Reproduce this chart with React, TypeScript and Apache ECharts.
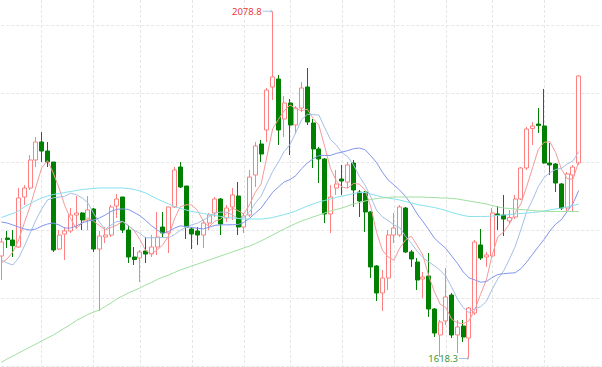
import React, { useEffect, useRef } from 'react';
import * as echarts from 'echarts';

const openPrices = [1754.3,1778.1,1775.5,1766.2,1832.5,1844.4,1881.6,1905.5,1893.5,1878.9,
1763.5,1783.4,1787.4,1808.6,1811.3,1802.0,1816.6,1763.5,1779.5,1782.1,
1820.6,1832.5,1788.7,1752.9,1751.6,1760.9,1756.9,1766.2,1792.7,1784.8,
1819.3,1872.3,1847.1,1790.1,1787.4,1782.1,1798.0,1811.3,1829.9,1804.7,
1819.3,1833.8,1792.7,1808.6,1861.7,1902.8,1921.4,1978.4,1989.0,1936.0,
1957.2,1928.0,1950.5,1978.4,1930.7,1896.2,1882.9,1810.0,1844.4,1856.4,
1852.4,1877.6,1839.1,1839.1,1812.6,1741.0,1705.2,1725.1,1782.1,1782.1,
1817.9,1759.6,1746.3,1723.8,1727.7,1684.0,1649.5,1668.1,1702.5,1649.5,
1661.4,1645.5,1678.7,1768.9,1752.9,1754.3,1810.0,1808.6,1800.7,1806.0,
1829.9,1871.0,1923.4,1929.3,1926.7,1877.6,1876.3,1849.8,1817.9,1861.7,
1877.6];

const closePrices = [1772.8,1776.1,1767.9,1831.2,1844.4,1881.6,1905.5,1893.5,1878.9,1762.2,
1782.1,1787.4,1808.6,1811.3,1802.0,1815.3,1763.5,1780.8,1782.1,1819.3,
1829.9,1788.7,1752.9,1749.6,1759.6,1756.9,1766.2,1779.5,1784.8,1819.3,
1868.3,1845.8,1792.7,1783.4,1782.1,1798.0,1808.6,1829.9,1796.7,1817.9,
1835.2,1792.7,1807.3,1859.0,1900.2,1889.5,1974.4,1991.7,1921.4,1957.2,
1928.0,1950.5,1977.1,1932.0,1896.2,1882.9,1810.0,1832.5,1849.8,1853.7,
1875.0,1841.8,1827.2,1812.6,1739.7,1705.2,1725.1,1782.1,1791.4,1819.3,
1759.6,1750.3,1722.4,1726.4,1684.0,1652.1,1666.7,1699.9,1649.5,1660.1,
1646.8,1685.3,1772.8,1751.6,1755.6,1811.3,1808.0,1803.3,1805.3,1829.9,
1871.0,1922.7,1926.7,1927.3,1877.6,1875.0,1851.1,1817.9,1863.0,1872.3,
1993.0];

const lowPrices = [1722.4,1764.9,1752.9,1764.9,1821.9,1841.8,1872.3,1878.9,1872.3,1759.6,
1762.2,1749.0,1784.8,1790.1,1788.7,1788.7,1759.6,1681.3,1771.5,1779.5,
1804.7,1784.8,1745.0,1742.3,1719.8,1745.0,1752.9,1755.6,1779.5,1758.2,
1817.9,1844.4,1776.8,1763.5,1768.9,1764.9,1788.7,1806.0,1782.1,1799.4,
1802.0,1782.1,1784.8,1806.0,1845.8,1878.9,1905.5,1961.2,1901.5,1912.1,
1888.2,1916.1,1945.2,1928.0,1871.0,1851.1,1798.0,1784.8,1835.2,1835.2,
1844.4,1819.3,1806.0,1786.1,1725.1,1694.6,1681.3,1709.2,1771.5,1779.5,
1758.2,1739.7,1709.2,1698.6,1673.4,1646.8,1620.3,1662.7,1645.5,1625.6,
1640.2,1618.3,1676.0,1749.0,1739.7,1752.9,1788.7,1780.8,1796.7,1803.3,
1828.5,1868.3,1901.5,1917.4,1876.9,1861.7,1839.1,1815.3,1812.6,1812.6,
1875.0];

const highPrices = [1778.1,1787.4,1788.7,1844.4,1848.4,1888.2,1912.1,1918.7,1905.5,1878.9,
1788.7,1792.7,1817.9,1833.8,1812.6,1833.8,1817.9,1787.4,1792.7,1821.9,
1836.5,1832.5,1795.4,1766.2,1762.2,1779.5,1782.1,1812.6,1812.6,1819.3,
1872.3,1878.9,1847.1,1792.7,1792.7,1802.0,1811.3,1832.5,1831.2,1821.9,
1844.4,1852.4,1811.3,1868.3,1905.5,1908.1,1977.1,2078.8,1994.3,1966.5,
1962.5,1953.2,1985.0,2003.6,1936.0,1898.8,1884.2,1848.4,1868.3,1875.0,
1878.9,1881.6,1841.8,1840.5,1813.9,1742.3,1735.7,1788.7,1811.3,1821.9,
1819.3,1762.2,1751.6,1733.0,1758.2,1685.3,1669.4,1738.3,1705.2,1669.4,
1669.4,1686.6,1775.5,1790.1,1759.6,1817.9,1820.6,1835.2,1815.3,1835.2,
1872.3,1925.4,1932.0,1950.5,1975.8,1904.1,1877.6,1851.1,1865.7,1875.0,
1994.3];

// moving-average values before enough bars exist in view
const ma5Head = [1745.0, 1750.3, 1759.6, 1775.5];
const ma10Head = [1749.0, 1745.0, 1742.3, 1751.6, 1767.5, 1784.8, 1802.0, 1816.6, 1828.5];
const ma20Head = [1799.4, 1798.0, 1795.4, 1792.7, 1790.1, 1788.7, 1790.1, 1794.0, 1796.7, 1798.0,
1795.4, 1791.4, 1791.4, 1794.0, 1798.0, 1800.7, 1802.0, 1804.7, 1808.6];

// long moving averages
const ma30Values = [1805.3,1808.0,1810.6,1813.9,1819.3,1823.9,1827.9,1831.2,1833.8,1835.8,
1837.2,1838.5,1839.8,1841.1,1842.5,1843.1,1843.8,1844.5,1844.5,1844.5,
1844.5,1844.5,1843.8,1842.5,1840.5,1837.8,1833.8,1829.9,1826.5,1823.2,
1819.9,1817.3,1815.3,1813.3,1812.0,1810.6,1809.3,1808.0,1806.7,1805.3,
1804.7,1804.0,1803.3,1803.3,1803.3,1803.3,1804.0,1805.3,1807.3,1809.3,
1811.3,1813.9,1817.3,1820.6,1823.2,1825.9,1827.9,1829.9,1831.9,1833.8,
1835.2,1837.2,1838.5,1838.5,1836.5,1834.5,1832.5,1831.2,1829.9,1828.5,
1826.5,1824.6,1822.6,1821.2,1819.9,1818.6,1816.6,1814.6,1812.0,1810.0,
1808.0,1806.7,1806.7,1806.7,1806.7,1807.3,1808.0,1808.6,1809.3,1810.0,
1810.6,1811.3,1812.0,1812.6,1813.9,1815.3,1816.6,1817.9,1819.3,1821.2,
1823.2];

const ma60Values = [1613.0,1617.7,1621.6,1625.6,1629.6,1633.6,1637.5,1641.5,1645.5,1649.5,
1654.1,1658.8,1663.4,1668.7,1672.7,1676.7,1680.0,1682.6,1687.3,1691.9,
1697.2,1701.2,1705.2,1708.5,1711.8,1715.8,1719.1,1723.1,1726.4,1729.1,
1732.4,1735.7,1738.3,1741.0,1743.6,1746.3,1749.0,1751.6,1754.3,1756.9,
1759.6,1762.2,1764.9,1767.5,1770.8,1774.2,1778.1,1782.1,1786.1,1790.1,
1794.0,1797.4,1800.7,1803.3,1806.0,1808.6,1811.3,1813.9,1815.9,1817.9,
1820.6,1823.2,1825.2,1827.2,1829.2,1830.5,1831.2,1831.9,1832.5,1832.5,
1832.5,1832.5,1832.5,1832.5,1831.9,1831.9,1831.2,1831.2,1830.5,1829.9,
1828.5,1827.2,1825.9,1824.6,1823.2,1821.2,1819.3,1817.9,1817.3,1816.6,
1815.9,1815.3,1814.6,1813.9,1813.9,1813.3,1813.3,1813.3,1813.3,1813.3,
1813.3];

// 101 trading days plus 4 empty slots on the right
const categories = Array.from({ length: 105 }, (_, i) => 'D' + (i + 1));
// category indices where the faint vertical separators are drawn
const separatorIdx = [7, 16, 24, 33, 42, 50, 59, 68, 77, 85, 94];

function movingAverage(head: number[], period: number): number[] {
  return closePrices.map((_, i) => {
    if (i < head.length) return head[i];
    let s = 0;
    for (let k = i - period + 1; k <= i; k++) s += closePrices[k];
    return +(s / period).toFixed(2);
  });
}

export default function App() {
  const ref = useRef<HTMLDivElement>(null);
  useEffect(() => {
    document.body.style.margin = '0';
    if (!ref.current) return;
    const chart = echarts.init(ref.current, undefined, { renderer: 'svg' });
    const ohlc = openPrices.map((o, i) => [o, closePrices[i], lowPrices[i], highPrices[i]]);
    const gridColor = '#e6e6e6';
    const line = (name: string, data: number[], color: string) => ({
      name, type: 'line', data, symbol: 'none', smooth: false,
      lineStyle: { width: 1, color }, itemStyle: { color }, z: 3,
    });
    chart.setOption({
      animation: false,
      backgroundColor: '#ffffff',
      grid: { left: 1.3, right: 0.2, top: 0, bottom: 0.5, containLabel: false },
      xAxis: {
        type: 'category', data: categories, boundaryGap: false,
        axisLine: { show: false }, axisTick: { show: false }, axisLabel: { show: false },
        splitLine: {
          show: true,
          interval: (i: number) => separatorIdx.includes(i),
          lineStyle: { color: gridColor, type: [3, 2], width: 1 },
        },
      },
      yAxis: [
        { type: 'value', min: 1607.7, max: 2093.8, show: false, scale: true },
        {
          type: 'value', min: 0, max: 5.374, interval: 1,
          axisLine: { show: false }, axisTick: { show: false }, axisLabel: { show: false },
          splitLine: {
            show: true, showMaxLine: false,
            lineStyle: { color: gridColor, type: [3, 2], width: 1 },
          },
        },
      ],
      series: [
        {
          name: 'K', type: 'candlestick', data: ohlc, barWidth: 4.5, z: 2,
          itemStyle: {
            color: '#ffffff', color0: '#008000',
            borderColor: '#ff8080', borderColor0: '#008000', borderWidth: 1,
          },
          markPoint: {
            symbol: 'path://M0,2.5 L8,2.5 L8,1 L10,3 L8,5 L8,3.5 L0,3.5 Z',
            symbolSize: [10, 4],
            symbolOffset: [-5, 0],
            symbolKeepAspect: false,
            itemStyle: { color: '#a9c4e0' },
            label: {
              show: true, position: 'left', distance: 1, fontSize: 9.5,
              fontFamily: 'Noto Sans, sans-serif',
              formatter: (p: any) => Number(p.value).toFixed(1),
            },
            data: [
              { type: 'max', valueDim: 'highest', label: { color: '#e8383d' } },
              { type: 'min', valueDim: 'lowest', label: { color: '#3a9a3a' } },
            ],
          },
        },
        line('MA5', movingAverage(ma5Head, 5), '#f49a9a'),
        line('MA10', movingAverage(ma10Head, 10), '#a6bfe6'),
        line('MA20', movingAverage(ma20Head, 20), '#8195ee'),
        line('MA30', ma30Values, '#86e0ee'),
        line('MA60', ma60Values, '#9fdf9f'),
      ],
    });
    return () => chart.dispose();
  }, []);
  return <div ref={ref} style={{ width: 602, height: 367 }} />;
}
